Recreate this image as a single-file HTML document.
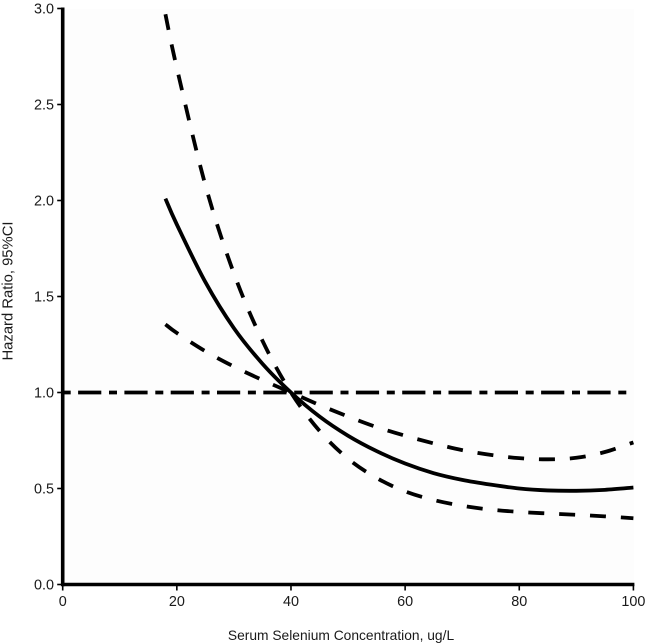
<!DOCTYPE html>
<html>
<head>
<meta charset="utf-8">
<style>
html,body{margin:0;padding:0;background:#fff;}
svg{display:block;}
text{font-family:"Liberation Sans",sans-serif;fill:#1a1a1a;}
</style>
</head>
<body>
<svg id="chart" xmlns="http://www.w3.org/2000/svg" width="646" height="644" viewBox="0 0 646 644">
<rect x="64" y="9" width="570" height="575" fill="#fdfdfd"/>
<g id="series"></g>
<g id="axes"></g>
<text x="341" y="640" font-size="13.8" text-anchor="middle">Serum Selenium Concentration, ug/L</text>
<text transform="translate(12.5,291) rotate(-90)" font-size="14.8" text-anchor="middle">Hazard Ratio, 95%CI</text>
</svg>
<script>
const xTicks = [0, 20, 40, 60, 80, 100];
const yTicks = [0, 0.5, 1, 1.5, 2, 2.5, 3];
const yTickLabels = ["0.0", "0.5", "1.0", "1.5", "2.0", "2.5", "3.0"];
const concentration = [18, 20, 25, 30, 35, 40, 45, 50, 55, 60, 65, 70, 75, 80, 85, 90, 95, 100];
const hazardRatio = [2.01, 1.875, 1.575, 1.335, 1.15, 1.0, 0.875, 0.775, 0.695, 0.63, 0.58, 0.545, 0.52, 0.5, 0.49, 0.488, 0.493, 0.505];
const upperBound = [2.97, 2.69, 2.08, 1.62, 1.27, 1.0, 0.8, 0.655, 0.555, 0.485, 0.44, 0.41, 0.39, 0.378, 0.37, 0.363, 0.355, 0.345];
const lowerBound = [1.355, 1.31, 1.215, 1.135, 1.065, 1.0, 0.935, 0.875, 0.82, 0.775, 0.735, 0.7, 0.675, 0.658, 0.652, 0.66, 0.69, 0.74];
const referenceX = [0, 100];
const referenceY = [1, 1];

const NS = "http://www.w3.org/2000/svg";
const xScale = v => 62.7 + v * 5.707;
const yScale = v => 584.5 - v * 192;

function make(tag, attrs, parent) {
  const el = document.createElementNS(NS, tag);
  for (const k in attrs) el.setAttribute(k, attrs[k]);
  parent.appendChild(el);
  return el;
}

function smoothPath(xs, ys) {
  const p = xs.map((x, i) => [xScale(x), yScale(ys[i])]);
  let d = "M" + p[0][0].toFixed(2) + " " + p[0][1].toFixed(2);
  for (let i = 0; i < p.length - 1; i++) {
    const a = p[Math.max(i - 1, 0)], b = p[i], c = p[i + 1], e = p[Math.min(i + 2, p.length - 1)];
    const c1x = b[0] + (c[0] - a[0]) / 6, c1y = b[1] + (c[1] - a[1]) / 6;
    const c2x = c[0] - (e[0] - b[0]) / 6, c2y = c[1] - (e[1] - b[1]) / 6;
    d += "C" + [c1x, c1y, c2x, c2y, c[0], c[1]].map(n => n.toFixed(2)).join(" ");
  }
  return d;
}

const seriesGroup = document.getElementById("series");
const axesGroup = document.getElementById("axes");

const refLine = make("path", {
  d: "M" + xScale(referenceX[0]) + " " + yScale(referenceY[0]) + "L" + xScale(referenceX[1]) + " " + yScale(referenceY[1]),
  fill: "none", stroke: "#000", "stroke-width": 3.8, "stroke-dasharray": "8 7.4 23.2 7.7"
}, seriesGroup);



const upperLine = make("path", {
  d: smoothPath(concentration, upperBound),
  fill: "none", stroke: "#000", "stroke-width": 3.8, "stroke-dasharray": "16 14.9"
}, seriesGroup);



const lowerLine = make("path", {
  d: smoothPath(concentration, lowerBound),
  fill: "none", stroke: "#000", "stroke-width": 3.8, "stroke-dasharray": "16 14.9"
}, seriesGroup);



const mainLine = make("path", {
  d: smoothPath(concentration, hazardRatio),
  fill: "none", stroke: "#000", "stroke-width": 3.8
}, seriesGroup);



const yAxisLine = make("line", { x1: xScale(0), x2: xScale(0), y1: yScale(3) - 1, y2: yScale(0) + 1.8, stroke: "#000", "stroke-width": 3.6 }, axesGroup);



const xAxisLine = make("line", { x1: xScale(0), x2: xScale(100) + 1, y1: yScale(0), y2: yScale(0), stroke: "#000", "stroke-width": 3.4 }, axesGroup);



xTicks.forEach(v => {
  const tick = make("line", { x1: xScale(v), x2: xScale(v), y1: yScale(0), y2: yScale(0) + 6, stroke: "#000", "stroke-width": 1.6 }, axesGroup);
  
  
  const label = make("text", { x: xScale(v), y: 606, "font-size": 14.4, "text-anchor": "middle" }, axesGroup);
  
  
  label.textContent = String(v);
});

yTicks.forEach((v, i) => {
  const tick = make("line", { x1: xScale(0) - 5.5, x2: xScale(0), y1: yScale(v), y2: yScale(v), stroke: "#000", "stroke-width": 1.6 }, axesGroup);
  
  
  const label = make("text", { x: 54, y: yScale(v) + 5, "font-size": 14.4, "text-anchor": "end" }, axesGroup);
  
  
  label.textContent = yTickLabels[i];
});
</script>
</body>
</html>
